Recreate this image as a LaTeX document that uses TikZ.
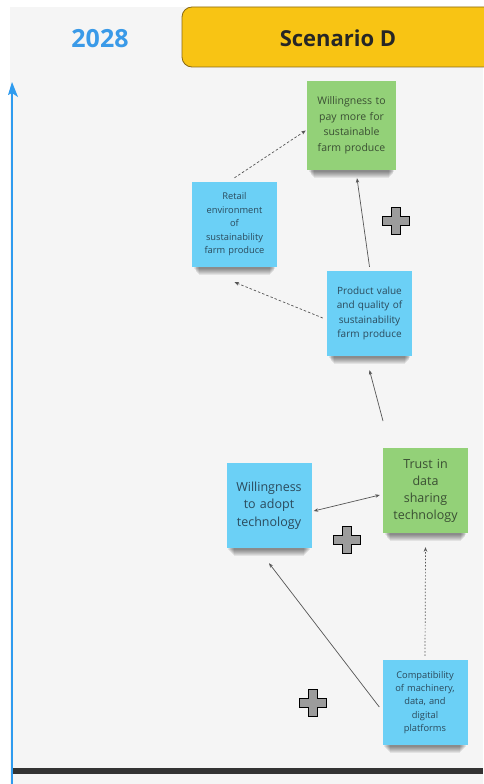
\documentclass[tikz,border=0pt]{standalone}
\usepackage{fontspec}
\setmainfont{Open Sans}
\usetikzlibrary{arrows.meta}

\pgfdeclarelayer{canvaslayer}
\pgfdeclarelayer{shadowlayer}
\pgfsetlayers{canvaslayer,shadowlayer,main}

\definecolor{panel}{HTML}{F5F5F5}
\definecolor{timeblue}{HTML}{2E9BEF}
\definecolor{yearblue}{HTML}{3A9AE8}
\definecolor{bannerfill}{HTML}{F8C414}
\definecolor{bannerline}{HTML}{8A6A12}
\definecolor{noteblue}{HTML}{6BD0F6}
\definecolor{notegreen}{HTML}{93D178}
\definecolor{textblue}{HTML}{2B4A5C}
\definecolor{textgreen}{HTML}{3A4F33}
\definecolor{linkgrey}{HTML}{555555}
\definecolor{plusfill}{HTML}{9C9C9C}

\tikzset{
  note/.style={minimum width=85pt, minimum height=85pt, inner sep=0pt,
    align=center, text width=80pt},
  bluenote/.style={note, fill=noteblue, text=textblue},
  greennote/.style={note, fill=notegreen, text=textgreen},
  link/.style={draw=linkgrey, line width=0.7pt, -{Stealth[length=4.5pt,width=3.5pt]}},
  dashlink/.style={link, dash pattern=on 2.5pt off 2pt},
  dotlink/.style={link, dash pattern=on 1.5pt off 1.8pt},
  plussign/.pic={
    \draw[fill=plusfill, draw=black, line width=1.3pt, line join=miter]
      (-4.5,-13.5) -- (4.5,-13.5) -- (4.5,-4.5) -- (13.5,-4.5) -- (13.5,4.5)
      -- (4.5,4.5) -- (4.5,13.5) -- (-4.5,13.5) -- (-4.5,4.5) -- (-13.5,4.5)
      -- (-13.5,-4.5) -- (-4.5,-4.5) -- cycle;
  }
}

\begin{document}
\begin{tikzpicture}[x=1pt, y=-1pt]
  \useasboundingbox (0,0) rectangle (483,784);
  \begin{pgfonlayer}{canvaslayer}
    \fill[white] (0,0) rectangle (483,784);
    \fill[panel] (10,7) rectangle (483,784);
  \end{pgfonlayer}

  % time axis and bottom rule
  \draw[timeblue, line width=2.6pt] (12,784) -- (12,92);
  \fill[timeblue] (12,82) -- (18,97) -- (12,93) -- (8,95) -- cycle;
  \fill[black!80] (13,768) rectangle (483,774);

  % header
  \node[text=yearblue, font=\fontsize{25}{28}\selectfont\bfseries] (year) at (100,39) {2028};
  \draw[fill=bannerfill, draw=bannerline, line width=0.8pt, rounded corners=10pt]
    (182,7) rectangle (495,67);
  \node[text=black!85, font=\fontsize{22}{26}\selectfont\bfseries] (title) at (338,38) {Scenario D};

  % sticky notes
  \node[greennote, minimum width=89pt, minimum height=89pt,
        font=\fontsize{10.5}{15.5}\selectfont] (wtp) at (351.5,125.5)
        {Willingness to\\pay more for\\sustainable\\farm produce};
  \node[bluenote, font=\fontsize{9.3}{13.5}\selectfont] (retail) at (234.5,224.5)
        {Retail\\environment\\of\\sustainability\\farm produce};
  \node[bluenote, font=\fontsize{10}{14.5}\selectfont] (value) at (369.5,313.5)
        {Product value\\and quality of\\sustainability\\farm produce};
  \node[bluenote, font=\fontsize{12.5}{17.5}\selectfont] (adopt) at (269,505.5)
        {Willingness\\to adopt\\technology};
  \node[greennote, font=\fontsize{12.5}{17}\selectfont] (trust) at (425.5,490.5)
        {Trust in\\data\\sharing\\technology};
  \node[bluenote, font=\fontsize{9.3}{13.3}\selectfont] (compat) at (425,702.5)
        {Compatibility\\of machinery,\\data, and\\digital\\platforms};

  % soft shadows under the lower edge of each note
  \begin{pgfonlayer}{shadowlayer}
    \foreach \n in {wtp,retail,value,adopt,trust,compat}{
      \foreach \k in {1,...,7}{
        \fill[black, opacity=0.075]
          ([xshift={1pt+0.9pt*\k}, yshift=4pt]\n.south west)
          rectangle ([xshift={-1pt-0.9pt*\k}, yshift={-0.5pt-1pt*\k}]\n.south east);
      }
    }
  \end{pgfonlayer}

  \coordinate (valuefeed) at (383,421);

  % influence links
  \draw[dashlink] ([yshift=4pt]retail.north) -- ([xshift=-1pt,yshift=-5pt]wtp.west);
  \draw[link] ([yshift=4pt]value.north) -- ([xshift=5.5pt,yshift=-8pt]wtp.south);
  \draw[dashlink] ([xshift=-4pt,yshift=-4.5pt]value.west) -- ([yshift=-15pt]retail.south);
  \draw[link] (valuefeed) -- ([yshift=-14pt]value.south);
  \draw[link, {Stealth[length=4.5pt,width=3.5pt]}-{Stealth[length=4.5pt,width=3.5pt]}]
    ([xshift=2pt,yshift=-5.5pt]adopt.east) -- ([xshift=-3pt,yshift=-4.5pt]trust.west);
  \draw[dotlink] ([yshift=4pt]compat.north) -- ([yshift=-14pt]trust.south);
  \draw[link] ([xshift=-3pt,yshift=-4.5pt]compat.west) -- ([yshift=-15pt]adopt.south);

  % reinforcing signs
  \pic at (396,221) {plussign};
  \pic at (347,540) {plussign};
  \pic at (313,703) {plussign};
\end{tikzpicture}
\end{document}
